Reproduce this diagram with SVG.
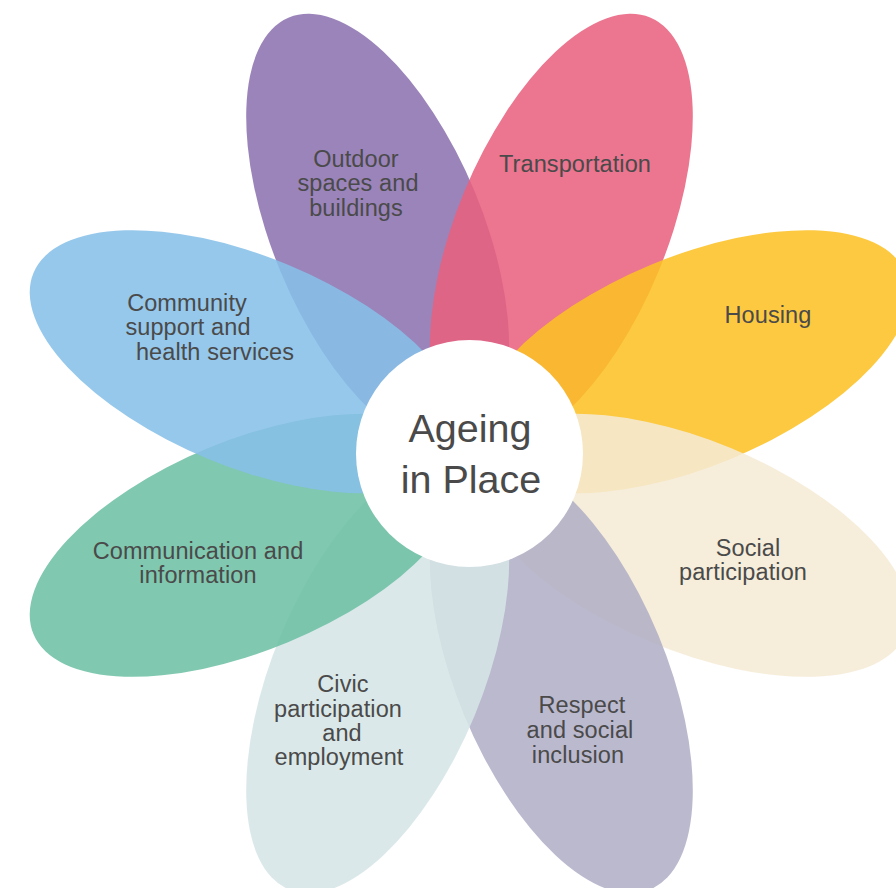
<svg xmlns="http://www.w3.org/2000/svg" width="896" height="888" viewBox="0 0 896 888">
  <style>
    .petal { fill-opacity: 0.87; }
    .label { font-family: "Liberation Sans", Arial, sans-serif; font-size: 23.5px; letter-spacing: 0.1px; fill: #4a4a4a; text-anchor: middle; }
    .hub { font-family: "Liberation Sans", Arial, sans-serif; font-size: 39.5px; fill: #4a4a4a; text-anchor: middle; }
  </style>
  <rect width="896" height="888" fill="#ffffff"/>

  <!-- petals, drawn clockwise from the top-left one; each is an ellipse rotated about its own centre -->
  <g id="petal-outdoor">
    <ellipse class="petal" cx="377.7" cy="231.8" rx="232" ry="105" fill="#8C72B0" transform="rotate(-112.5 377.7 231.8)"/>
    <text class="label"><tspan x="356" y="167">Outdoor</tspan><tspan x="358" y="191">spaces and</tspan><tspan x="356" y="216">buildings</tspan></text>
  </g>
  <g id="petal-transportation">
    <ellipse class="petal" cx="561.3" cy="231.8" rx="232" ry="105" fill="#E9617F" transform="rotate(-67.5 561.3 231.8)"/>
    <text class="label" x="575" y="172">Transportation</text>
  </g>
  <g id="petal-housing">
    <ellipse class="petal" cx="691.2" cy="361.7" rx="232" ry="105" fill="#FBC124" transform="rotate(-22.5 691.2 361.7)"/>
    <text class="label" x="768" y="323">Housing</text>
  </g>
  <g id="petal-social">
    <ellipse class="petal" cx="691.2" cy="545.3" rx="232" ry="105" fill="#F5EAD5" transform="rotate(22.5 691.2 545.3)"/>
    <text class="label"><tspan x="748" y="556">Social</tspan><tspan x="743" y="580">participation</tspan></text>
  </g>
  <g id="petal-respect">
    <ellipse class="petal" cx="561.3" cy="675.2" rx="232" ry="105" fill="#B1AFC7" transform="rotate(67.5 561.3 675.2)"/>
    <text class="label"><tspan x="582" y="713">Respect</tspan><tspan x="580" y="738">and social</tspan><tspan x="578" y="763">inclusion</tspan></text>
  </g>
  <g id="petal-civic">
    <ellipse class="petal" cx="377.7" cy="675.2" rx="232" ry="105" fill="#D6E5E6" transform="rotate(112.5 377.7 675.2)"/>
    <text class="label"><tspan x="343" y="692">Civic</tspan><tspan x="338" y="717">participation</tspan><tspan x="342" y="741">and</tspan><tspan x="339" y="765">employment</tspan></text>
  </g>
  <g id="petal-communication">
    <ellipse class="petal" cx="247.8" cy="545.3" rx="232" ry="105" fill="#6DC0A4" transform="rotate(157.5 247.8 545.3)"/>
    <text class="label"><tspan x="198" y="559">Communication and</tspan><tspan x="198" y="583">information</tspan></text>
  </g>
  <g id="petal-community">
    <ellipse class="petal" cx="247.8" cy="361.7" rx="232" ry="105" fill="#86C0E8" transform="rotate(202.5 247.8 361.7)"/>
    <text class="label"><tspan x="187" y="311">Community</tspan><tspan x="188" y="335">support and</tspan><tspan x="215" y="360">health services</tspan></text>
  </g>

  <!-- centre disc -->
  <g id="hub">
    <circle cx="469.5" cy="453.5" r="113.5" fill="#ffffff"/>
    <text class="hub"><tspan x="470" y="442">Ageing</tspan><tspan x="471" y="493">in Place</tspan></text>
  </g>
</svg>
